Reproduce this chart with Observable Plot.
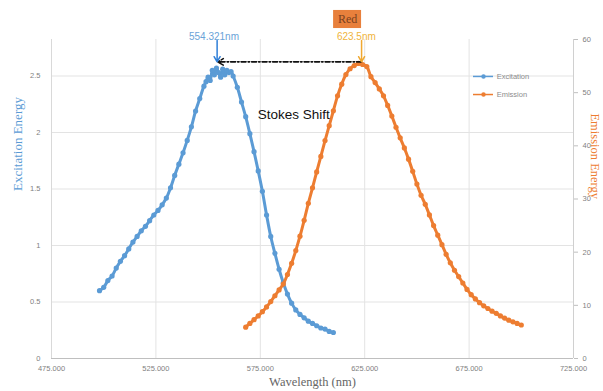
<!DOCTYPE html>
<html>
<head>
<meta charset="utf-8">
<script src="https://cdn.jsdelivr.net/npm/d3@7"></script>
<script src="https://cdn.jsdelivr.net/npm/@observablehq/plot@0.6"></script>
<style>
  html, body { margin: 0; padding: 0; background: #ffffff; }
  #chart { width: 603px; height: 391px; overflow: hidden; }
</style>
</head>
<body>
<div id="chart"></div>
<script>
// Excitation (left axis), wavelength in nm
const excitationNm = [498,500,502,504,506,508,510,512,514,516,518,520,522,524,526,528,530,532,534,536,538,540,542,544,546,548,549,550,551,552,553,554,555,556,557,558,559,560,561,562,564,566,568,570,572,574,576,578,580,582,584,586,588,590,592,594,596,598,600,602,604,606,608,610];
const excitationVal = [0.60,0.63,0.69,0.73,0.80,0.86,0.91,0.97,1.03,1.08,1.13,1.17,1.22,1.27,1.31,1.36,1.42,1.51,1.62,1.72,1.82,1.93,2.05,2.19,2.30,2.41,2.45,2.49,2.46,2.55,2.51,2.57,2.53,2.49,2.56,2.51,2.55,2.53,2.54,2.50,2.40,2.27,2.14,1.99,1.83,1.66,1.48,1.27,1.08,0.93,0.79,0.67,0.57,0.49,0.43,0.39,0.36,0.33,0.31,0.29,0.27,0.26,0.24,0.23];

// Emission (right axis)
const emissionNm = [568,570,572,574,576,578,580,582,584,586,588,590,592,594,596,598,600,602,604,606,608,610,612,614,616,618,620,622,624,626,628,630,632,634,636,638,640,642,644,646,648,650,652,654,656,658,660,662,664,666,668,670,672,674,676,678,680,682,684,686,688,690,692,694,696,698,700];
const emissionVal = [5.9,6.6,7.3,8.0,8.8,9.7,10.7,11.8,12.9,14.0,15.8,17.9,20.3,23.0,26.0,29.2,32.1,35.1,38.0,41.0,43.8,46.6,49.4,51.6,53.4,54.5,55.1,55.5,55.3,54.9,53.0,51.9,50.7,49.4,47.6,45.6,43.5,41.5,39.6,37.5,35.2,32.8,30.7,29.0,27.0,25.0,23.2,21.4,19.6,18.0,16.6,15.4,14.2,13.0,12.0,11.2,10.5,9.9,9.4,8.9,8.5,8.0,7.6,7.2,6.9,6.6,6.3];

const xTicks = [475, 525, 575, 625, 675, 725];
const leftTicks = [0, 0.5, 1, 1.5, 2, 2.5];
const rightTicks = [0, 10, 20, 30, 40, 50, 60];

const excitationPeak = 554.321;
const emissionPeak = 623.5;

const leftMax = 2.823;
const rightMax = 60;
const k = leftMax / rightMax;

const blue = "#5b9bd5";
const orange = "#ed7d31";
const gray = "#7f7f7f";

const exc = excitationNm.map((x, i) => ({x, y: excitationVal[i]}));
const emi = emissionNm.map((x, i) => ({x, y: emissionVal[i] * k}));

const chart = Plot.plot({
  width: 603,
  height: 391,
  marginLeft: 51,
  marginRight: 30,
  marginTop: 39,
  marginBottom: 33,
  style: {background: "#ffffff", fontFamily: "Liberation Sans, Arial, sans-serif"},
  x: {domain: [475, 725], axis: null},
  y: {domain: [0, leftMax], axis: null},
  marks: [
    Plot.gridX([525, 575, 625, 675], {stroke: "#e3e3e3", strokeOpacity: 1}),
    Plot.gridY([0.5, 1, 1.5, 2, 2.5], {stroke: "#e3e3e3", strokeOpacity: 1}),
    Plot.ruleX([475], {stroke: "#d9d9d9"}),
    Plot.ruleX([725], {stroke: "#d0d0d0"}),
    Plot.ruleY([0], {stroke: "#bfbfbf"}),
    Plot.axisX(xTicks, {tickSize: 0, tickPadding: 7, tickFormat: d3.format(".3f"), fontSize: 7.5, fill: gray, label: null}),
    Plot.axisY(leftTicks, {anchor: "left", tickSize: 0, tickPadding: 11, tickFormat: d => String(d), fontSize: 7.5, fill: gray, label: null}),
    Plot.axisY(rightTicks.map(v => v * k), {anchor: "right", tickSize: 4, tickPadding: 5, stroke: "#bfbfbf", tickFormat: d => String(Math.round(d / k)), fontSize: 7.5, fill: gray, label: null}),
    // series
    Plot.line(exc, {x: "x", y: "y", stroke: blue, strokeWidth: 3, curve: "catmull-rom"}),
    Plot.dot(exc, {x: "x", y: "y", r: 2.6, fill: blue, stroke: "none"}),
    Plot.line(emi, {x: "x", y: "y", stroke: orange, strokeWidth: 3, curve: "catmull-rom"}),
    Plot.dot(emi, {x: "x", y: "y", r: 2.6, fill: orange, stroke: "none"}),
    // Stokes shift dashed arrow
    Plot.arrow([0], {x1: emissionPeak, y1: 2.625, x2: excitationPeak + 0.3, y2: 2.625, stroke: "#111", strokeWidth: 1.6, strokeDasharray: "5,2,1.5,2", headLength: 6}),
    // peak arrows
    Plot.arrow([0], {x1: excitationPeak, y1: 2.815, x2: excitationPeak, y2: 2.625, stroke: "#2f7fd8", strokeWidth: 1.5, headLength: 6}),
    Plot.arrow([0], {x1: emissionPeak, y1: 2.815, x2: emissionPeak, y2: 2.625, stroke: "#f0a830", strokeWidth: 1.5, headLength: 6}),
    Plot.text([excitationPeak + "nm"], {x: excitationPeak - 1.5, y: 2.85, text: d => d, fill: "#6aa3d8", fontSize: 10}),
    Plot.text([emissionPeak + "nm"], {x: emissionPeak - 2.5, y: 2.85, text: d => d, fill: "#f0b43c", fontSize: 10}),
    // Red box
    Plot.rect([0], {x1: 610.1, x2: 623.5, y1: 2.92, y2: 3.08, fill: "#e8803c"}),
    Plot.text(["Red"], {x: 616.8, y: 3.0, text: d => d, fill: "#7a4020", fontSize: 12, fontFamily: "Liberation Serif, Times New Roman, serif"}),
    Plot.text(["Stokes Shift"], {x: 591, y: 2.16, text: d => d, fill: "#111", fontSize: 13.5}),
    // legend
    Plot.ruleY([0], {x1: 677.1, x2: 686.7, y: 2.496, stroke: blue, strokeWidth: 1.5}),
    Plot.dot([0], {x: 681.9, y: 2.496, r: 2.2, fill: blue}),
    Plot.text(["Excitation"], {x: 688.2, y: 2.496, text: d => d, textAnchor: "start", fill: "#8c8c8c", fontSize: 7.5}),
    Plot.ruleY([0], {x1: 677.1, x2: 686.7, y: 2.336, stroke: orange, strokeWidth: 1.5}),
    Plot.dot([0], {x: 681.9, y: 2.336, r: 2.2, fill: orange}),
    Plot.text(["Emission"], {x: 688.2, y: 2.336, text: d => d, textAnchor: "start", fill: "#8c8c8c", fontSize: 7.5}),
    // axis titles
    Plot.text(["Excitation Energy"], {frameAnchor: "left", dx: -34, dy: -8, rotate: -90, text: d => d, fill: blue, fontSize: 13, fontFamily: "Liberation Serif, Times New Roman, serif"}),
    Plot.text(["Emission Energy"], {frameAnchor: "right", dx: 21, dy: 0, rotate: 90, text: d => d, fill: orange, fontSize: 12.5, fontFamily: "Liberation Serif, Times New Roman, serif"}),
    Plot.text(["Wavelength (nm)"], {frameAnchor: "bottom", dy: 27, text: d => d, fill: "#666", fontSize: 12.5, fontFamily: "Liberation Serif, Times New Roman, serif"})
  ]
});
document.getElementById("chart").appendChild(chart);
</script>
</body>
</html>
